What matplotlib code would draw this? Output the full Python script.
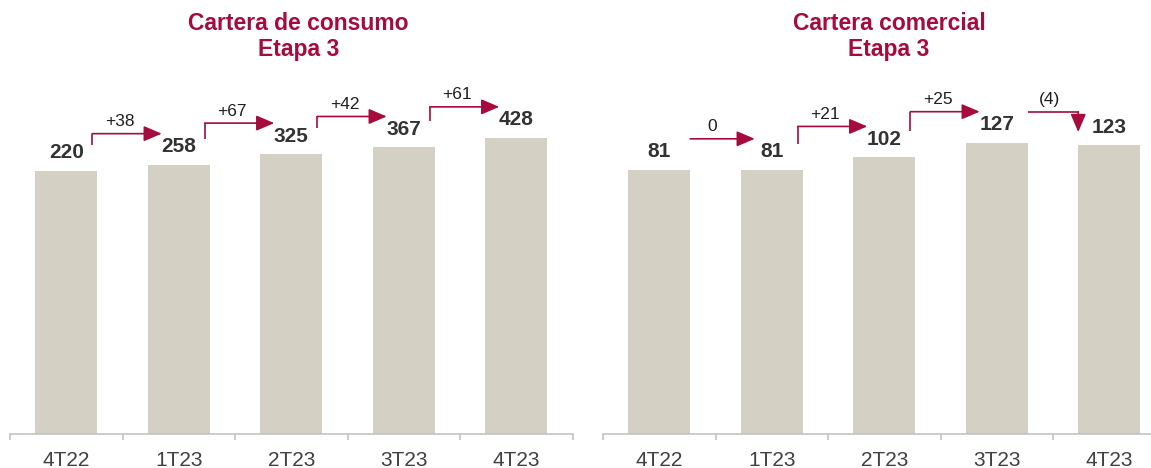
"""Stage 3 loan portfolios: consumer vs commercial, quarterly bars with change arrows."""

import matplotlib.pyplot as plt
import numpy as np

plt.rcParams["font.family"] = ["Liberation Sans", "DejaVu Sans"]

quarters = ["4T22", "1T23", "2T23", "3T23", "4T23"]
consumo = [220, 258, 325, 367, 428]
comercial = [81, 81, 102, 127, 123]
titles = ["Cartera de consumo", "Cartera comercial"]
subtitle = "Etapa 3"

BAR_COLOR = "#D4D0C4"
ARROW_COLOR = "#A50B3C"
TITLE_COLOR = "#A50B3C"
VALUE_COLOR = "#333333"
TICK_COLOR = "#404040"
AXIS_COLOR = "#BFBFBF"

W, H = 1151, 468
SLOT = 112.5  # pixels per category


def delta_label(d):
    if d > 0:
        return f"+{d}"
    if d < 0:
        return f"({-d})"
    return "0"


def panel(fig, left_px, values, px_per_unit, offset, title, title_x):
    top_px, bottom_px = 60, 434
    ax = fig.add_axes([left_px / W, 1 - bottom_px / H,
                       5 * SLOT / W, (bottom_px - top_px) / H])
    ymin = -offset
    ymax = ymin + (bottom_px - top_px) / px_per_unit
    ax.set_ylim(ymin, ymax)
    ax.set_xlim(-0.5, len(values) - 0.5)

    x = np.arange(len(values))
    vals = np.array(values, dtype=float)
    ax.bar(x, vals - ymin, bottom=ymin, width=0.55, color=BAR_COLOR)

    py = 1.0 / px_per_unit  # data units per vertical pixel
    px = 1.0 / SLOT          # data units per horizontal pixel

    for i, v in enumerate(values):
        ax.text(i, v + 18 * py, f"{v}", ha="center", va="center",
                fontsize=15, fontweight="bold", color=VALUE_COLOR)

    head = dict(arrowstyle="-|>,head_length=11,head_width=4.7",
                mutation_scale=1, color=ARROW_COLOR, lw=1.2,
                shrinkA=0, shrinkB=0)
    for i in range(len(values) - 1):
        a, b = values[i], values[i + 1]
        d = b - a
        level = max(a, b) + 31 * py
        if d > 0:
            x0 = i + 26 * px
            ax.plot([x0, x0], [a + 26 * py, level], color=ARROW_COLOR,
                    lw=1.2, solid_capstyle="butt")
            ax.annotate("", xy=(i + 1 - 17 * px, level), xytext=(x0, level),
                        arrowprops=head)
        elif d == 0:
            ax.annotate("", xy=(i + 1 - 17 * px, level),
                        xytext=(i + 31 * px, level), arrowprops=head)
        else:
            x1 = i + 1 - 31 * px
            ax.plot([i + 31 * px, x1], [level, level], color=ARROW_COLOR,
                    lw=1.2, solid_capstyle="butt")
            ax.annotate("", xy=(x1, b + 13 * py), xytext=(x1, level),
                        arrowprops=head)
        ax.text(i + 0.5 - 3 * px, level + 12 * py, delta_label(d),
                ha="center", va="center", fontsize=12.5, color="#1F1F1F")

    for side in ("left", "right", "top"):
        ax.spines[side].set_visible(False)
    ax.spines["bottom"].set_color(AXIS_COLOR)
    ax.spines["bottom"].set_linewidth(1.1)
    ax.set_yticks([])
    ax.set_xticks(x)
    ax.set_xticklabels(quarters, fontsize=15, color=TICK_COLOR)
    ax.set_xticks(np.arange(-0.5, len(values), 1.0), minor=True)
    ax.tick_params(axis="x", which="major", length=0, pad=12)
    ax.tick_params(axis="x", which="minor", length=4.3, width=1.1,
                   color=AXIS_COLOR, direction="out")

    fig.text(title_x / W, 1 - 30 / H, title, ha="center", va="baseline",
             fontsize=16.5, fontweight="bold", color=TITLE_COLOR)
    fig.text(title_x / W, 1 - 56 / H, subtitle, ha="center", va="baseline",
             fontsize=16.5, fontweight="bold", color=TITLE_COLOR)
    return ax


fig = plt.figure(figsize=(W / 100, H / 100), dpi=100)
panel(fig, 10, consumo, 0.1576, 1451, titles[0], 298.5)
panel(fig, 603, comercial, 0.5897, 367, titles[1], 889)
fig.savefig("out.png", dpi=100)
